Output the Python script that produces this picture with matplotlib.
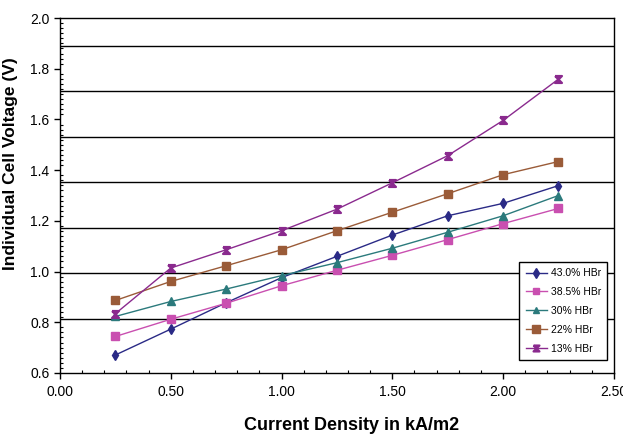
import matplotlib
matplotlib.use("Agg")
from matplotlib import pyplot as plt
from matplotlib.path import Path
from matplotlib.ticker import MultipleLocator, FormatStrFormatter

current = [0.25, 0.50, 0.75, 1.00, 1.25, 1.50, 1.75, 2.00, 2.25]

v_430 = [0.671, 0.773, 0.877, 0.976, 1.060, 1.144, 1.220, 1.269, 1.339]
v_385 = [0.744, 0.812, 0.875, 0.944, 1.005, 1.064, 1.126, 1.189, 1.249]
v_300 = [0.823, 0.882, 0.931, 0.984, 1.035, 1.092, 1.155, 1.220, 1.300]
v_220 = [0.886, 0.961, 1.023, 1.086, 1.161, 1.234, 1.307, 1.382, 1.434]
v_130 = [0.834, 1.014, 1.086, 1.161, 1.246, 1.350, 1.457, 1.596, 1.759]

labels = ["43.0% HBr", "38.5% HBr", "30% HBr", "22% HBr", "13% HBr"]

# horizontal lines in the original are not on the tick values
grid_y = [0.813, 0.996, 1.172, 1.353, 1.531, 1.712, 1.889]

font = ["Liberation Sans", "DejaVu Sans"]

# X with bars top and bottom (hourglass-like)
hourglass = Path([(-1, 1), (1, 1), (-1, -1), (1, -1), (-1, 1)],
                 [Path.MOVETO, Path.LINETO, Path.LINETO, Path.LINETO, Path.LINETO])

fig = plt.figure(figsize=(6.23, 4.36), dpi=100)
ax = fig.add_axes([0.0963, 0.1445, 0.889, 0.8142])

for y in grid_y:
    ax.axhline(y, color="black", lw=1.0, zorder=1)

ax.plot(current, v_430, marker="d", ms=5.5, color="#2a2a86", lw=1.0, label=labels[0], zorder=3)
ax.plot(current, v_385, marker="s", ms=5.5, color="#c94fb0", lw=1.0, label=labels[1], zorder=3)
ax.plot(current, v_300, marker="^", ms=5.5, color="#2b7a7c", lw=1.0, label=labels[2], zorder=3)
ax.plot(current, v_220, marker="s", ms=6, color="#9a5b38", lw=1.0, label=labels[3], zorder=3)
ax.plot(current, v_130, marker=hourglass, ms=5, mew=1.6, color="#8a2a8e", lw=1.0, label=labels[4], zorder=3)

ax.set_xlim(0, 2.5)
ax.set_ylim(0.6, 2.0)
ax.xaxis.set_major_locator(MultipleLocator(0.5))
ax.xaxis.set_minor_locator(MultipleLocator(0.1))
ax.yaxis.set_major_locator(MultipleLocator(0.2))
ax.yaxis.set_minor_locator(MultipleLocator(0.02))
ax.xaxis.set_major_formatter(FormatStrFormatter("%.2f"))
ax.yaxis.set_major_formatter(FormatStrFormatter("%.1f"))
ax.tick_params(axis="both", which="major", direction="out", length=4, width=1, labelsize=10)
ax.tick_params(axis="both", which="minor", direction="in", length=2.5, width=0.8)
ax.tick_params(axis="x", which="major", pad=5)
for lab in ax.get_xticklabels() + ax.get_yticklabels():
    lab.set_family(font)

for s in ax.spines.values():
    s.set_linewidth(1.0)

ax.set_xlabel("Current Density in kA/m2", fontsize=13, fontweight="bold", family=font)
ax.xaxis.set_label_coords(0.527, -0.125)
ax.set_ylabel("Individual Cell Voltage (V)", fontsize=12.5, fontweight="bold", family=font)
ax.yaxis.set_label_coords(-0.075, 0.59)

leg = ax.legend(loc="lower right", bbox_to_anchor=(0.988, 0.037), borderaxespad=0,
                fancybox=False, edgecolor="black", framealpha=1,
                prop={"family": font, "size": 7.5},
                handlelength=2.0, handletextpad=0.4, labelspacing=0.85, borderpad=0.6,
                markerscale=0.85)
leg.get_frame().set_linewidth(1.0)

plt.savefig("out.png", dpi=100)
